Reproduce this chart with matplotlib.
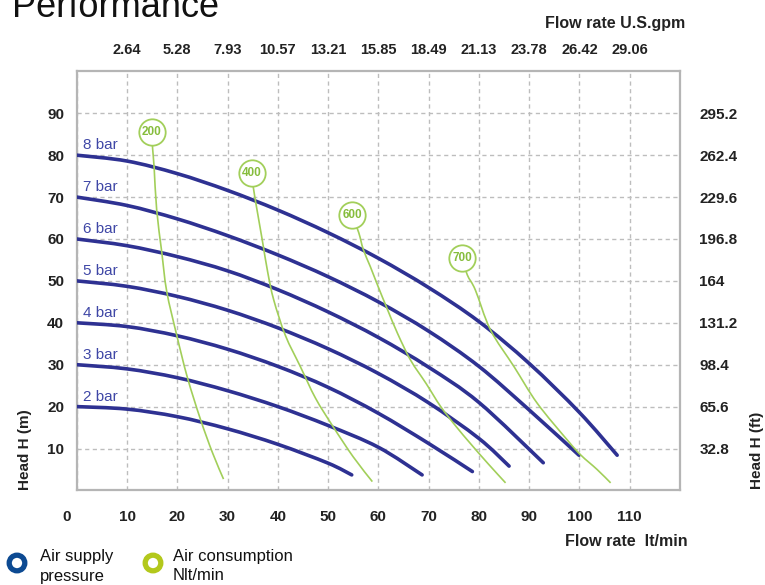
import matplotlib
matplotlib.use("Agg")
import matplotlib.pyplot as plt
from matplotlib.transforms import ScaledTranslation
from matplotlib.patches import Circle, PathPatch
from matplotlib.path import Path

plt.rcParams['font.family'] = ['Liberation Sans', 'DejaVu Sans']

# ---------------- data ----------------
flow_ticks = [0, 10, 20, 30, 40, 50, 60, 70, 80, 90, 100, 110]
gpm_ticks = [10, 20, 30, 40, 50, 60, 70, 80, 90, 100, 110]
gpm_labels = ["2.64", "5.28", "7.93", "10.57", "13.21", "15.85", "18.49",
              "21.13", "23.78", "26.42", "29.06"]
head_ticks = [10, 20, 30, 40, 50, 60, 70, 80, 90]
ft_labels = ["32.8", "65.6", "98.4", "131.2", "164", "196.8", "229.6",
             "262.4", "295.2"]

bar8_x = [0, 10, 20, 30, 40, 50, 60, 70, 80, 90, 100, 107.5]
bar8_y = [80, 78.6, 75.6, 71.6, 66.9, 61.5, 55.4, 48.4, 40.3, 30.3, 18.6, 8.4]
bar7_x = [0, 10, 20, 30, 40, 50, 60, 70, 80, 90, 99.9]
bar7_y = [70, 68.0, 64.8, 60.8, 56.2, 51.0, 45.0, 38.0, 29.6, 19.2, 8.4]
bar6_x = [0, 10, 20, 30, 40, 50, 60, 70, 80, 92.8]
bar6_y = [60, 58.4, 55.8, 52.4, 47.9, 42.6, 36.5, 29.4, 21.0, 6.6]
bar5_x = [0, 10, 20, 30, 40, 50, 60, 70, 80, 86.0]
bar5_y = [50, 48.7, 46.3, 43.0, 38.8, 33.8, 27.9, 20.9, 12.4, 5.8]
bar4_x = [0, 10, 20, 30, 40, 50, 60, 70, 78.7]
bar4_y = [40, 39.1, 36.9, 33.7, 29.6, 24.6, 18.4, 11.2, 4.5]
bar3_x = [0, 10, 20, 30, 40, 50, 60, 68.7]
bar3_y = [30, 29.0, 26.9, 23.8, 20.0, 15.5, 10.3, 3.7]
bar2_x = [0, 10, 20, 30, 40, 50, 54.7]
bar2_y = [20, 19.4, 17.6, 14.7, 11.0, 6.5, 3.7]

pressure_names = ["8 bar", "7 bar", "6 bar", "5 bar", "4 bar", "3 bar", "2 bar"]
pressure_curves = [(bar8_x, bar8_y), (bar7_x, bar7_y), (bar6_x, bar6_y),
                   (bar5_x, bar5_y), (bar4_x, bar4_y), (bar3_x, bar3_y),
                   (bar2_x, bar2_y)]

air200_x = [14.9, 15.1, 15.4, 15.9, 16.9, 17.9, 19.9, 22.0, 24.6, 27.0, 29.2]
air200_y = [85.6, 81.5, 77.0, 67.0, 57.0, 47.5, 37.0, 27.0, 17.0, 9.0, 2.7]
air400_x = [34.9, 35.1, 36.0, 36.9, 38.0, 39.2, 41.5, 44.5, 47.5, 51.0, 55.0, 58.8]
air400_y = [75.8, 72.5, 66.0, 59.8, 52.0, 45.4, 37.0, 29.5, 22.0, 15.2, 8.0, 2.1]
air600_x = [54.8, 56.1, 57.0, 58.4, 60.0, 61.7, 63.8, 66.4, 69.5, 72.4, 75.5, 78.3, 81.8, 85.3]
air600_y = [65.7, 61.5, 57.5, 53.4, 48.5, 43.5, 37.5, 31.1, 25.5, 20.0, 15.2, 11.2, 6.4, 1.8]
air700_x = [76.7, 77.7, 79.3, 82.3, 87.0, 91.6, 97.6, 100.3, 103.5, 106.2]
air700_y = [55.4, 51.4, 47.8, 38.3, 29.5, 20.8, 12.0, 8.4, 5.0, 1.8]

air_names = ["200", "400", "600", "700"]
air_curves = [(air200_x, air200_y), (air400_x, air400_y),
              (air600_x, air600_y), (air700_x, air700_y)]

# ---------------- styles ----------------
BLUE = "#2e3192"
BLUE_TXT = "#3f47a6"
GREEN = "#a2cf5a"
GREEN_TXT = "#86bd3c"
GRID = "#bdbdbd"
BOLD = dict(fontweight="bold", color="#222222")


def smooth_path(xs, ys):
    """Catmull-Rom curve through the read points, as a cubic Bezier path."""
    pts = list(zip(xs, ys))
    n = len(pts)
    verts = [pts[0]]
    codes = [Path.MOVETO]
    for i in range(n - 1):
        p0 = pts[i - 1] if i > 0 else pts[i]
        p1 = pts[i]
        p2 = pts[i + 1]
        p3 = pts[i + 2] if i + 2 < n else pts[i + 1]
        c1 = (p1[0] + (p2[0] - p0[0]) / 6.0, p1[1] + (p2[1] - p0[1]) / 6.0)
        c2 = (p2[0] - (p3[0] - p1[0]) / 6.0, p2[1] - (p3[1] - p1[1]) / 6.0)
        verts += [c1, c2, p2]
        codes += [Path.CURVE4] * 3
    return Path(verts, codes)


fig = plt.figure(figsize=(7.65, 5.85), dpi=100)
ax = fig.add_axes([0.1003, 0.1617, 0.7886, 0.7163])
ax.set_xlim(0, 120)
ax.set_ylim(0, 100)

for s in ax.spines.values():
    s.set_color("#b5b5b5")
    s.set_linewidth(1.6)

ax.set_xticks(flow_ticks)
ax.set_xticklabels([str(v) for v in flow_ticks])
ax.set_yticks(head_ticks)
ax.set_yticklabels([str(v) for v in head_ticks])
ax.tick_params(axis="x", length=0, pad=14, labelsize=11)
ax.tick_params(axis="y", length=0, pad=9, labelsize=11)
for lab in ax.get_xticklabels() + ax.get_yticklabels():
    lab.set_fontweight("bold")
    lab.set_color("#222222")

ax.grid(True, color=GRID, linestyle=(0, (3, 2.5)), linewidth=1.0)
ax.set_axisbelow(True)

# top gpm axis
axt = ax.twiny()
axt.set_xlim(ax.get_xlim())
axt.set_xticks(gpm_ticks)
axt.set_xticklabels(gpm_labels)
axt.tick_params(axis="x", length=0, pad=10, labelsize=10.5)
for lab in axt.get_xticklabels():
    lab.set_fontweight("bold")
    lab.set_color("#222222")
for s in axt.spines.values():
    s.set_visible(False)

# right ft axis
axr = ax.twinx()
axr.set_ylim(ax.get_ylim())
axr.set_yticks(head_ticks)
axr.set_yticklabels(ft_labels)
axr.tick_params(axis="y", length=0, pad=14, labelsize=11)
for lab in axr.get_yticklabels():
    lab.set_fontweight("bold")
    lab.set_color("#222222")
for s in axr.spines.values():
    s.set_visible(False)

# shift the "0" label left like the reference
zero = ax.get_xticklabels()[0]
zero.set_transform(zero.get_transform() + ScaledTranslation(-10 / 100, 0, fig.dpi_scale_trans))

# pressure curves
for name, (xs, ys) in zip(pressure_names, pressure_curves):
    ax.add_patch(PathPatch(smooth_path(xs, ys), facecolor="none", edgecolor=BLUE,
                           linewidth=2.6, capstyle="round", joinstyle="round",
                           zorder=3))
    ax.text(1.3, ys[0] + 2.4, name, color=BLUE_TXT, fontsize=11,
            ha="left", va="center", zorder=4)

# air consumption curves
for name, (xs, ys) in zip(air_names, air_curves):
    ax.add_patch(PathPatch(smooth_path(xs, ys), facecolor="none", edgecolor=GREEN,
                           linewidth=1.2, zorder=4))
    ax.plot([xs[0]], [ys[0]], marker="o", markersize=19, markerfacecolor="white",
            markeredgecolor=GREEN, markeredgewidth=1.3, zorder=5)
    ax.text(xs[0], ys[0], name, color=GREEN_TXT, fontsize=8.5, fontweight="bold",
            ha="center", va="center", zorder=6)

# titles / axis texts
fig.text(12 / 765, 1 - 17 / 585, "Performance", fontsize=26, color="#111111",
         ha="left", va="baseline")
fig.text(685 / 765, 1 - 28 / 585, "Flow rate U.S.gpm", fontsize=11.5,
         ha="right", va="baseline", **BOLD)
fig.text(688 / 765, 1 - 542 / 585, "Flow rate  lt/min", fontsize=11.5,
         ha="right", va="center", **BOLD)
fig.text(25 / 765, 1 - 450 / 585, "Head H (m)", fontsize=11, rotation=90,
         ha="center", va="center", **BOLD)
fig.text(757 / 765, 1 - 450 / 585, "Head H (ft)", fontsize=11, rotation=90,
         ha="center", va="center", **BOLD)

# legend
W, H = 765, 585
leg = fig.add_axes([0, 0, 1, 1], facecolor="none")
leg.axis("off")
leg.set_xlim(0, W)
leg.set_ylim(H, 0)
leg.add_patch(Circle((17, 563), 7.8, fill=False, edgecolor="#0d4a92", linewidth=3.8))
leg.add_patch(Circle((153, 563), 7.8, fill=False, edgecolor="#b3c81c", linewidth=3.8))
leg.text(40, 557, "Air supply", fontsize=12, color="#111111", ha="left", va="center")
leg.text(40, 576, "pressure", fontsize=12, color="#111111", ha="left", va="center")
leg.text(173, 557, "Air consumption", fontsize=12, color="#111111", ha="left", va="center")
leg.text(173, 576, "Nlt/min", fontsize=12, color="#111111", ha="left", va="center")

fig.savefig("out.png", dpi=100)
